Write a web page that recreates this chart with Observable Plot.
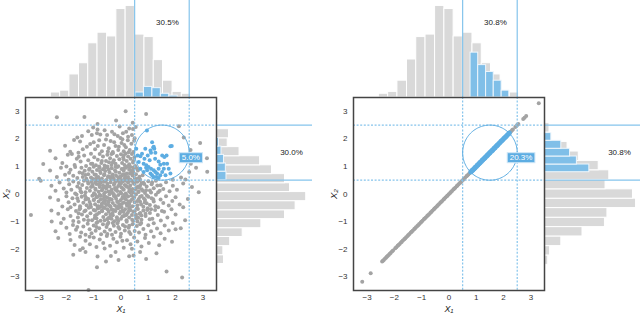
<!DOCTYPE html>
<html><head><meta charset="utf-8">
<script src="https://cdn.jsdelivr.net/npm/d3@7"></script>
<script src="https://cdn.jsdelivr.net/npm/@observablehq/plot@0.6"></script>
<style>
html,body{margin:0;padding:0;background:#fff;overflow:hidden}
#chart{position:relative;width:640px;height:313px;font-family:"Liberation Sans",Arial,sans-serif}
#chart svg{position:absolute;overflow:visible}
</style></head><body><div id="chart"></div>
<script>
// ---------------- data ----------------
const xTicks = [-3, -2, -1, 0, 1, 2, 3];
const yTicks = [-3, -2, -1, 0, 1, 2, 3];
const thresholds = [0.5, 2.5];
const circleCenter = [1.5, 1.5];
const circleRadius = 1;

const topPctLabels = ["30.5%", "30.8%"];
const sidePctLabels = ["30.0%", "30.8%"];
const circlePctLabels = ["5.0%", "20.3%"];

// X1 histogram bins (shared)
const x1Edges = [-2.57,-2.23,-1.89,-1.54,-1.20,-0.86,-0.51,-0.17,0.17,0.51,0.86,1.20,1.54,1.89,2.23,2.57];
const leftTopCounts  = [8,11,37,55,87,104,98,142,147,101,97,60,27,9,6];
const rightTopCounts = [6,9,27,61,97,101,147,142,98,104,87,55,37,11,8];
// left panel X2 histogram
const leftX2Edges = [-2.54,-2.22,-1.89,-1.56,-1.24,-0.91,-0.59,-0.26,0.07,0.39,0.72,1.04,1.37,1.70,2.02,2.35,2.67,3.00];
const leftSideCounts = [12,11,22,42,72,110,127,144,118,110,89,70,37,18,20,0,3];
// right panel X2 histogram (same bins as X1)
const rightSideCounts = [6,9,27,61,97,101,147,142,98,104,87,55,37,11,8];
// in-circle histograms
const leftBlueTopEdges = [0.53,0.84,1.15,1.46,1.77,2.08];
const leftBlueTopCounts = [8,17,15,6,3];
const leftBlueSideEdges = [0.50,0.81,1.11,1.42,1.72,2.03];
const leftBlueSideCounts = [16,15,12,8,4];
const rightBlueEdges = [0.79,1.07,1.36,1.64,1.93,2.21];
const rightBlueCounts = [72,52,41,27,11];

// left scatter: points outside the circle
const leftGray = [
[-2.35,2.78],[-1.34,2.79],[0.17,3.0],[0.92,2.9],[-0.18,2.67],[-0.86,2.54],[0.43,2.58],[2.12,2.46],[0.54,2.43],[-0.05,2.45],[-1.02,2.41],
[-1.43,2.10],[-1.07,2.14],[-0.88,2.20],[-0.76,2.16],[-0.51,2.14],[-0.33,2.26],[-0.24,2.17],[-0.12,2.10],[0.07,2.20],[0.19,2.26],[0.26,2.08],[0.40,2.14],[-0.86,2.34],[0.44,2.36],[-1.6,2.05],[-0.6,2.31],[0.3,2.38],[-0.02,2.03],[-1.2,2.28],[0.5,2.02],[2.3,2.05],
[-2.6,1.57],[-1.86,1.53],[-1.56,1.50],[-1.50,1.90],[-1.25,1.71],[-1.13,1.81],[-0.95,1.62],[-0.80,1.95],[-0.70,1.55],[-0.62,1.78],[-0.45,1.66],[-0.38,1.92],[-0.30,1.52],[-0.20,1.74],[-0.10,1.60],[0.02,1.85],[0.10,1.55],[0.18,1.70],[0.25,1.95],[0.32,1.60],[0.38,1.82],[0.45,1.52],[-1.00,1.88],[-0.55,1.98],[0.05,1.99],[-1.40,1.62],[-2.05,1.75],[-0.85,1.74],[-0.25,1.88],[0.12,1.78],[-0.48,1.54],[-1.72,1.96],[0.48,1.93],[-0.08,1.71],[0.28,1.51],[2.55,1.6],[2.9,1.85],
[-2.85,1.09],[-2.4,1.3],[-2.15,1.12],[-1.95,1.42],[-1.80,1.45],[-1.70,1.05],[-1.62,1.28],[-1.48,1.18],[-1.35,1.40],[-1.28,1.02],[-1.20,1.22],[-1.10,1.46],[-1.05,1.10],[-0.98,1.33],[-0.92,1.04],[-0.85,1.24],[-0.78,1.45],[-0.72,1.12],[-0.66,1.36],[-0.60,1.03],[-0.55,1.20],[-0.50,1.42],[-0.44,1.15],[-0.40,1.30],[-0.35,1.05],[-0.30,1.48],[-0.26,1.22],[-0.20,1.10],[-0.15,1.38],[-0.10,1.01],[-0.06,1.26],[0.00,1.44],[0.04,1.12],[0.08,1.32],[0.13,1.05],[0.17,1.47],[0.21,1.20],[0.26,1.36],[0.30,1.08],[0.35,1.28],[0.40,1.45],[0.44,1.14],[0.49,1.33],[0.52,1.02],[2.56,1.1],[2.75,1.35],[3.15,1.30],[-0.5,1.0],[-1.55,1.35],[-2.0,1.0],[0.1,1.4],[-0.8,1.0],[-0.35,1.45],[0.24,1.0],
[-3.0,0.55],[-2.6,0.85],[-2.35,0.62],[-2.2,0.95],[-2.05,0.7],[-1.92,0.52],[-1.85,0.88],[-1.75,0.66],[-1.68,0.98],[-1.6,0.58],[-1.52,0.78],[-1.45,0.95],[-1.4,0.62],[-1.33,0.84],[-1.27,0.55],[-1.2,0.72],[-1.15,0.92],[-1.1,0.6],[-1.05,0.81],[-1.0,0.99],[-0.96,0.53],[-0.92,0.7],[-0.88,0.87],[-0.83,0.62],[-0.79,0.96],[-0.75,0.76],[-0.7,0.56],[-0.66,0.9],[-0.62,0.68],[-0.58,0.83],[-0.54,0.51],[-0.5,0.97],[-0.46,0.64],[-0.42,0.79],[-0.38,0.58],[-0.34,0.93],[-0.3,0.71],[-0.26,0.54],[-0.22,0.86],[-0.18,0.66],[-0.14,0.98],[-0.1,0.6],[-0.06,0.77],[-0.02,0.52],[0.02,0.91],[0.06,0.69],[0.1,0.84],[0.14,0.57],[0.18,0.95],[0.22,0.74],[0.26,0.62],[0.3,0.88],[0.34,0.53],[0.38,0.8],[0.42,0.67],[0.46,0.96],[0.5,0.58],[0.55,0.72],[0.6,0.55],[0.7,0.52],[0.62,0.85],[0.68,0.63],[2.36,0.53],[2.5,0.8],[2.2,0.6],[1.9,0.52],[3.16,0.81],[2.75,0.95],[-0.9,0.58],[-0.3,0.61],[0.15,0.72],[-1.3,0.69],[-0.6,0.95],[0.0,0.64],[-0.45,0.88],[0.35,0.98],[-1.9,0.77],[-0.75,0.51],[0.45,0.78],[-0.2,0.99],[-1.05,0.55],[0.1,0.51],
[-2.94,0.48],[-2.55,0.3],[-2.4,0.12],[-2.25,0.42],[-2.1,0.2],[-2.0,0.05],[-1.9,0.35],[-1.82,0.15],[-1.75,0.45],[-1.68,0.02],[-1.6,0.27],[-1.55,0.4],[-1.48,0.1],[-1.42,0.33],[-1.36,0.48],[-1.3,0.06],[-1.25,0.22],[-1.2,0.38],[-1.14,0.12],[-1.09,0.44],[-1.04,0.28],[-0.99,0.03],[-0.94,0.19],[-0.9,0.36],[-0.86,0.49],[-0.82,0.08],[-0.78,0.25],[-0.74,0.41],[-0.7,0.14],[-0.66,0.31],[-0.62,0.01],[-0.58,0.46],[-0.54,0.2],[-0.5,0.37],[-0.46,0.09],[-0.42,0.27],[-0.38,0.43],[-0.34,0.16],[-0.3,0.04],[-0.26,0.34],[-0.22,0.22],[-0.18,0.47],[-0.14,0.11],[-0.1,0.29],[-0.06,0.4],[-0.02,0.07],[0.02,0.24],[0.06,0.45],[0.1,0.15],[0.14,0.33],[0.18,0.02],[0.22,0.26],[0.26,0.42],[0.3,0.1],[0.34,0.31],[0.38,0.48],[0.42,0.18],[0.46,0.05],[0.5,0.36],[0.55,0.22],[0.6,0.44],[0.65,0.08],[0.7,0.3],[0.76,0.17],[0.82,0.41],[0.88,0.04],[0.94,0.27],[1.0,0.46],[1.06,0.13],[1.12,0.35],[1.2,0.21],[1.28,0.48],[1.36,0.06],[1.45,0.32],[1.55,0.18],[1.65,0.43],[1.78,0.1],[1.9,0.3],[2.05,0.15],[2.28,0.38],[2.6,0.25],[2.85,0.06],[-0.8,0.33],[-0.4,0.05],[0.0,0.38],[0.3,0.2],[-1.1,0.25],[0.8,0.12],[-0.2,0.15],[0.45,0.4],[-0.6,0.25],[-1.5,0.2],[1.1,0.05],[0.15,0.48],[-0.95,0.42],[0.62,0.27],
[-2.6,-0.13],[-2.3,-0.22],[-2.15,-0.45],[-2.0,-0.08],[-1.92,-0.3],[-1.85,-0.48],[-1.78,-0.15],[-1.7,-0.38],[-1.63,-0.02],[-1.57,-0.25],[-1.5,-0.44],[-1.44,-0.1],[-1.38,-0.32],[-1.32,-0.05],[-1.26,-0.41],[-1.2,-0.18],[-1.15,-0.29],[-1.1,-0.47],[-1.05,-0.06],[-1.0,-0.22],[-0.95,-0.37],[-0.9,-0.12],[-0.86,-0.45],[-0.82,-0.27],[-0.78,-0.03],[-0.74,-0.19],[-0.7,-0.35],[-0.66,-0.49],[-0.62,-0.08],[-0.58,-0.24],[-0.54,-0.4],[-0.5,-0.14],[-0.46,-0.3],[-0.42,-0.01],[-0.38,-0.46],[-0.34,-0.2],[-0.3,-0.33],[-0.26,-0.07],[-0.22,-0.42],[-0.18,-0.17],[-0.14,-0.28],[-0.1,-0.04],[-0.06,-0.38],[-0.02,-0.23],[0.02,-0.48],[0.06,-0.11],[0.1,-0.31],[0.14,-0.02],[0.18,-0.2],[0.22,-0.43],[0.26,-0.09],[0.3,-0.36],[0.34,-0.26],[0.38,-0.05],[0.42,-0.44],[0.46,-0.16],[0.5,-0.3],[0.55,-0.02],[0.6,-0.41],[0.65,-0.18],[0.7,-0.28],[0.76,-0.07],[0.82,-0.46],[0.88,-0.22],[0.94,-0.34],[1.0,-0.1],[1.06,-0.4],[1.12,-0.15],[1.2,-0.27],[1.28,-0.03],[1.36,-0.48],[1.45,-0.2],[1.55,-0.33],[1.65,-0.08],[1.75,-0.42],[1.88,-0.25],[2.0,-0.12],[2.15,-0.38],[2.28,-0.48],[2.45,-0.18],[-0.85,-0.1],[-0.45,-0.25],[0.05,-0.15],[-0.65,-0.3],[0.2,-0.35],[-1.3,-0.2],[0.7,-0.1],[-0.1,-0.45],[0.4,-0.2],[-1.6,-0.15],[0.95,-0.05],[-0.2,-0.1],[-0.95,-0.02],[0.6,-0.25],
[-3.3,-0.76],[-2.55,-0.6],[-2.54,-1.0],[-2.3,-0.72],[-2.1,-0.9],[-1.95,-0.55],[-1.85,-0.8],[-1.75,-0.98],[-1.65,-0.62],[-1.58,-0.85],[-1.5,-0.52],[-1.43,-0.74],[-1.36,-0.93],[-1.3,-0.6],[-1.24,-0.81],[-1.18,-0.5],[-1.12,-0.7],[-1.06,-0.95],[-1.0,-0.58],[-0.95,-0.78],[-0.9,-0.88],[-0.85,-0.53],[-0.8,-0.68],[-0.75,-0.97],[-0.7,-0.6],[-0.65,-0.83],[-0.6,-0.51],[-0.55,-0.73],[-0.5,-0.92],[-0.45,-0.64],[-0.4,-0.86],[-0.35,-0.55],[-0.3,-0.77],[-0.25,-0.99],[-0.2,-0.62],[-0.15,-0.84],[-0.1,-0.52],[-0.05,-0.71],[0.0,-0.9],[0.05,-0.6],[0.1,-0.8],[0.15,-0.55],[0.2,-0.95],[0.25,-0.68],[0.3,-0.85],[0.35,-0.58],[0.4,-0.76],[0.45,-0.98],[0.5,-0.63],[0.56,-0.88],[0.62,-0.54],[0.68,-0.72],[0.75,-0.93],[0.82,-0.6],[0.9,-0.8],[0.98,-0.52],[1.06,-0.69],[1.15,-0.9],[1.25,-0.58],[1.35,-0.76],[1.46,-0.96],[1.58,-0.64],[1.7,-0.85],[1.85,-0.55],[2.0,-0.74],[2.35,-0.95],[-0.6,-0.95],[0.1,-0.65],[-0.95,-0.6],[0.55,-0.75],[-1.55,-0.7],[0.3,-0.52],[-0.35,-0.9],[0.75,-0.78],[-0.1,-0.98],[1.1,-0.55],[-1.2,-0.95],[-0.5,-0.55],[0.2,-0.75],[-0.8,-0.5],
[-2.4,-1.35],[-2.2,-1.05],[-2.0,-1.22],[-1.88,-1.45],[-1.76,-1.12],[-1.65,-1.3],[-1.55,-1.02],[-1.46,-1.4],[-1.38,-1.18],[-1.3,-1.48],[-1.22,-1.08],[-1.15,-1.28],[-1.08,-1.42],[-1.0,-1.14],[-0.93,-1.33],[-0.86,-1.02],[-0.8,-1.24],[-0.73,-1.46],[-0.66,-1.1],[-0.6,-1.36],[-0.53,-1.2],[-0.46,-1.04],[-0.4,-1.3],[-0.33,-1.48],[-0.26,-1.15],[-0.2,-1.38],[-0.13,-1.06],[-0.06,-1.26],[0.0,-1.44],[0.07,-1.12],[0.14,-1.32],[0.21,-1.01],[0.28,-1.22],[0.35,-1.45],[0.42,-1.1],[0.5,-1.34],[0.58,-1.16],[0.66,-1.4],[0.74,-1.05],[0.82,-1.27],[0.9,-1.48],[1.0,-1.13],[1.1,-1.35],[1.2,-1.06],[1.32,-1.25],[1.45,-1.42],[1.6,-1.14],[1.75,-1.32],[2.0,-1.28],[2.19,-1.24],[1.9,-1.05],[-0.9,-1.2],[-0.3,-1.05],[0.3,-1.38],[-1.6,-1.2],[0.6,-1.0],[-0.5,-1.45],[0.15,-1.18],
[-2.3,-1.6],[-1.85,-1.67],[-1.7,-1.85],[-1.5,-1.55],[-1.4,-1.97],[-1.3,-1.7],[-1.14,-1.82],[-1.0,-1.58],[-0.9,-1.92],[-0.78,-1.65],[-0.65,-1.78],[-0.52,-1.52],[-0.4,-1.88],[-0.28,-1.62],[-0.15,-1.75],[-0.02,-1.55],[0.1,-1.95],[0.22,-1.68],[0.35,-1.82],[0.48,-1.58],[0.6,-1.72],[0.75,-1.9],[0.88,-1.6],[1.02,-1.78],[1.2,-1.55],[1.4,-1.86],[1.87,-1.73],[1.6,-1.62],[-0.6,-1.98],[0.05,-1.7],[-1.15,-1.55],[0.4,-1.99],
[-1.5,-2.03],[-0.86,-2.27],[-0.37,-2.25],[-0.09,-2.39],[0.3,-2.26],[0.46,-2.23],[0.92,-2.36],[-0.88,-2.66],[-1.19,-3.48],[1.67,-2.81],[2.24,-3.03],[-1.75,-2.2],[-1.3,-2.1],[-0.2,-2.1],[0.7,-2.1],[1.3,-2.15],[-0.55,-2.45],
[-0.93,0.15],[-0.71,-0.42],[-0.48,0.62],[-0.27,-0.58],[-0.05,0.33],[0.16,-0.77],[0.37,0.12],[0.58,-0.53],[0.79,0.68],[-0.88,-0.73],[-0.63,0.44],[-0.41,-0.17],[-0.19,0.81],[0.03,-0.36],[0.24,0.57],[0.45,-0.64],[0.66,0.23],[0.87,-0.31],[-0.97,0.71],[-0.74,-0.06],[-0.52,0.28],[-0.31,-0.69],[-0.09,0.49],[0.12,-0.12],[0.33,0.74],[0.54,-0.81],[0.75,0.39],[0.96,-0.58],[-0.81,0.52],[-0.59,-0.33],[-0.37,0.09],[-0.15,-0.51],[0.07,0.71],[0.28,-0.27],[0.49,0.46],[0.71,-0.69],[0.92,0.14],[-1.12,-0.38],[-1.23,0.47],[-1.34,-0.63],[1.14,0.42],[1.26,-0.44],[1.33,0.31],[-0.68,0.19],[-0.46,-0.87],[-0.24,0.38],[-0.02,-0.64],[0.19,0.29],[0.41,-0.93],[0.63,0.07],[0.84,-0.16],[-0.99,-0.21],[-0.77,0.83],[-0.55,-0.11],[-0.33,0.66],[-0.11,-0.29],[0.1,0.92],[0.32,-0.47],[0.53,0.17],[0.74,-0.38],[-1.05,0.34],[-0.83,-0.44],[-0.61,0.72],[-0.39,-0.75],[-0.17,0.21],[0.05,-0.82],[0.27,0.44],[0.48,-0.12],[0.69,0.51],[0.9,-0.72],[-1.45,0.05],[-1.52,-0.55],[-1.41,0.75],[1.42,0.12],[1.5,-0.62],[-0.7,1.2],[-0.3,1.15],[0.1,1.25],[-0.5,-1.1],[-0.1,-1.2],[0.3,-1.15],[-0.9,-1.05],[0.7,-1.1],[-1.1,1.1],[0.45,1.2],[-0.58,0.06],[-0.36,0.53],[-0.14,-0.92],[0.08,0.18],[0.29,-0.61],[-0.96,-0.87],[0.58,0.93],[-1.17,0.88],[1.05,-0.92],[-0.26,-0.02],[-0.04,0.62],[0.21,-0.06],[0.43,0.86],[-0.79,0.37],[-0.69,-0.63],[0.63,-0.86],[0.85,0.36],[-1.28,-0.14],[1.18,-0.19],[0.01,0.02],[-0.43,-0.42],[0.34,0.05],[-0.21,0.47],[0.16,0.63],[-0.64,-0.18]
];
// left scatter: points inside the circle
const leftBlue = [
[0.95,2.30],[1.14,1.88],[1.18,1.69],[1.22,1.64],[1.08,1.58],[0.89,1.64],[0.77,1.46],[0.71,1.37],[0.86,1.28],[0.98,1.40],[1.10,1.50],[1.26,1.50],[1.51,1.40],[1.59,1.34],[1.67,1.40],[1.81,1.73],[1.38,1.18],[1.44,1.06],[1.57,1.10],[1.69,1.10],[0.83,1.10],[0.93,1.04],[1.01,0.98],[1.10,0.92],[1.20,0.86],[1.26,0.80],[1.32,0.74],[1.08,0.74],[1.14,0.68],[1.20,0.62],[1.30,0.62],[1.38,0.58],[1.44,0.68],[1.51,0.80],[1.57,0.92],[1.75,0.92],[1.81,0.74],[1.63,0.68],[0.65,1.16],[0.71,0.92],[0.83,0.80],[0.96,0.86],[1.38,0.92],[0.56,1.64],[0.61,1.40],[1.20,1.71],[1.86,1.74],[1.05,1.22],[1.25,1.28],[0.92,0.95]
];
// right scatter (X2 = X1): values along the diagonal
const diagGray = [-3.18,-2.87,-2.45,-2.42,-2.39,-2.35,-2.31,-2.28,-2.25,-2.21,-2.17,-2.14,-2.09,-2.05,-1.97,-1.93,-1.88,-1.85,-1.81,-1.76,-1.73,-1.69,-1.64,-1.61,-1.57,-1.52,-1.49,-1.45,-1.4,-1.37,-1.33,-1.28,-1.25,-1.21,-1.16,-1.13,-1.09,-1.04,-1.01,-0.97,-0.92,-0.89,-0.85,-0.8,-0.77,-0.73,-0.68,-0.65,-0.61,-0.56,-0.53,-0.49,-0.44,-0.41,-0.37,-0.32,-0.29,-0.25,-0.2,-0.17,-0.13,-0.08,-0.05,-0.01,0.04,0.07,0.11,0.16,0.19,0.23,0.28,0.31,0.35,0.4,0.43,0.47,0.52,0.55,0.59,0.64,0.67,0.71,0.75,2.24,2.27,2.31,2.34,2.43,2.47,2.5,2.54,2.72,2.77,2.83,3.29];
const diagBlue = [0.8,0.83,0.86,0.88,0.92,0.95,0.97,1.01,1.04,1.06,1.1,1.13,1.15,1.19,1.22,1.24,1.28,1.31,1.33,1.37,1.4,1.42,1.46,1.49,1.51,1.55,1.58,1.6,1.64,1.67,1.69,1.73,1.76,1.78,1.82,1.86,1.9,1.93,1.97,2.01,2.05,2.09,2.13,2.18,2.21];

// ---------------- styling ----------------
const pxPerCount = 0.623;
const grayBar = "#d9d9d9", blueBar = "#80bfe8", lineBlue = "#85c4ec", dotBlue = "#5dade2", dotGray = "#a3a3a3";
const baseStyle = {background: "transparent", fontFamily: "'Liberation Sans', Arial, sans-serif", fontSize: "8px", color: "#333", overflow: "visible"};
const intFmt = d3.format("d");

const bins = (edges, counts) => counts.map((c, i) => ({lo: edges[i], hi: edges[i + 1], count: c}));
const mid = (thresholds[0] + thresholds[1]) / 2;

function topHist(gray, blue, label) {
  return Plot.plot({
    width: 320, height: 97, marginLeft: 25, marginRight: 104, marginTop: 0, marginBottom: 0,
    style: baseStyle,
    x: {domain: [-3.5, 3.5], axis: null},
    y: {domain: [0, 97 / pxPerCount], axis: null},
    marks: [
      Plot.rectY(gray, {x1: "lo", x2: "hi", y: "count", fill: grayBar, stroke: "#fff", strokeWidth: 1}),
      Plot.rectY(blue, {x1: "lo", x2: "hi", y: "count", fill: blueBar, stroke: "#eef6fc", strokeWidth: 1}),
      Plot.ruleX(thresholds, {stroke: lineBlue, strokeWidth: 1.2}),
      Plot.text([label], {x: () => mid, frameAnchor: "top", dy: 19, dx: 5.5, textAnchor: "middle", text: d => d, fill: "#222", fontSize: 8})
    ]
  });
}

function sideHist(gray, blue, label) {
  return Plot.plot({
    width: 312, height: 313, marginLeft: 216, marginRight: 0, marginTop: 97, marginBottom: 23,
    style: baseStyle,
    x: {domain: [0, 96 / pxPerCount], axis: null},
    y: {domain: [-3.5, 3.5], axis: null},
    marks: [
      Plot.rectX(gray, {y1: "lo", y2: "hi", x: "count", fill: grayBar, stroke: "#fff", strokeWidth: 1}),
      Plot.rectX(blue, {y1: "lo", y2: "hi", x: "count", fill: blueBar, stroke: "#eef6fc", strokeWidth: 1}),
      Plot.ruleY(thresholds, {stroke: lineBlue, strokeWidth: 1.2}),
      Plot.text([label], {y: () => mid, frameAnchor: "left", dx: 75, textAnchor: "middle", text: d => d, fill: "#222", fontSize: 8})
    ]
  });
}

const circlePts = d3.range(0, 361, 3).map(a => [circleCenter[0] + circleRadius * Math.cos(a * Math.PI / 180), circleCenter[1] + circleRadius * Math.sin(a * Math.PI / 180)]);

function scatter(gray, blue, label, rBlue) {
  return Plot.plot({
    width: 320, height: 313, marginLeft: 25, marginRight: 104, marginTop: 97, marginBottom: 23,
    style: baseStyle,
    x: {domain: [-3.5, 3.5], ticks: xTicks, tickFormat: intFmt, tickSize: 0, tickPadding: 4, label: null},
    y: {domain: [-3.5, 3.5], ticks: yTicks, tickFormat: intFmt, tickSize: 0, tickPadding: 6, label: null},
    marks: [
      Plot.dot(gray, {x: d => d[0], y: d => d[1], r: 2, fill: dotGray, stroke: "none"}),
      Plot.dot(blue, {x: d => d[0], y: d => d[1], r: rBlue, fill: dotBlue, stroke: "none"}),
      Plot.ruleX(thresholds, {stroke: lineBlue, strokeWidth: 1.2, strokeDasharray: "2,1.6"}),
      Plot.ruleY(thresholds, {stroke: lineBlue, strokeWidth: 1.2, strokeDasharray: "2,1.6"}),
      Plot.line(circlePts, {x: d => d[0], y: d => d[1], stroke: dotBlue, strokeWidth: 1}),
      Plot.text([label], {x: () => circleCenter[0] + circleRadius, y: () => circleCenter[1], text: d => d, textAnchor: "start", dx: -7.5, dy: 5, fill: "#fff", fontSize: 8}),
      Plot.frame({stroke: "#444", strokeWidth: 1.5}),
      Plot.text(["X₁"], {x: () => 0, frameAnchor: "bottom", dy: 18.5, lineAnchor: "middle", text: d => d, fontStyle: "italic", fontSize: 9, fill: "#222"}),
      Plot.text(["X₂"], {y: () => 0, frameAnchor: "left", dx: -20, rotate: -90, textAnchor: "middle", lineAnchor: "middle", text: d => d, fontStyle: "italic", fontSize: 9.5, fill: "#222"})
    ]
  });
}

const chart = document.getElementById("chart");
function place(svg, left, top) { svg.style.position = "absolute"; svg.style.left = left + "px"; svg.style.top = top + "px"; chart.appendChild(svg); }

// left panel
place(topHist(bins(x1Edges, leftTopCounts), bins(leftBlueTopEdges, leftBlueTopCounts), topPctLabels[0]), 0, 0);
place(sideHist(bins(leftX2Edges, leftSideCounts), bins(leftBlueSideEdges, leftBlueSideCounts), sidePctLabels[0]), 0, 0);
place(scatter(leftGray, leftBlue, circlePctLabels[0], 2), 0, 0);
// right panel
place(topHist(bins(x1Edges, rightTopCounts), bins(rightBlueEdges, rightBlueCounts), topPctLabels[1]), 328, 0);
place(sideHist(bins(x1Edges, rightSideCounts), bins(rightBlueEdges, rightBlueCounts), sidePctLabels[1]), 328, 0);
place(scatter(diagGray.map(t => [t, t]), diagBlue.map(t => [t, t]), circlePctLabels[1], 2.5), 328, 0);

// label boxes behind the in-circle percentages
Array.from(chart.querySelectorAll("text"))
  .filter(t => circlePctLabels.includes(t.textContent.trim()))
  .forEach(t => {
    const b = t.getBBox();
    const r = document.createElementNS("http://www.w3.org/2000/svg", "rect");
    r.setAttribute("x", b.x - 2.5); r.setAttribute("y", b.y - 0.5);
    r.setAttribute("width", b.width + 5); r.setAttribute("height", b.height + 1);
    r.setAttribute("fill", dotBlue); r.setAttribute("stroke", "#cfe7f7"); r.setAttribute("stroke-width", 1);
    if (t.getAttribute("transform")) r.setAttribute("transform", t.getAttribute("transform"));
    t.parentNode.insertBefore(r, t);
  });
</script></body></html>
